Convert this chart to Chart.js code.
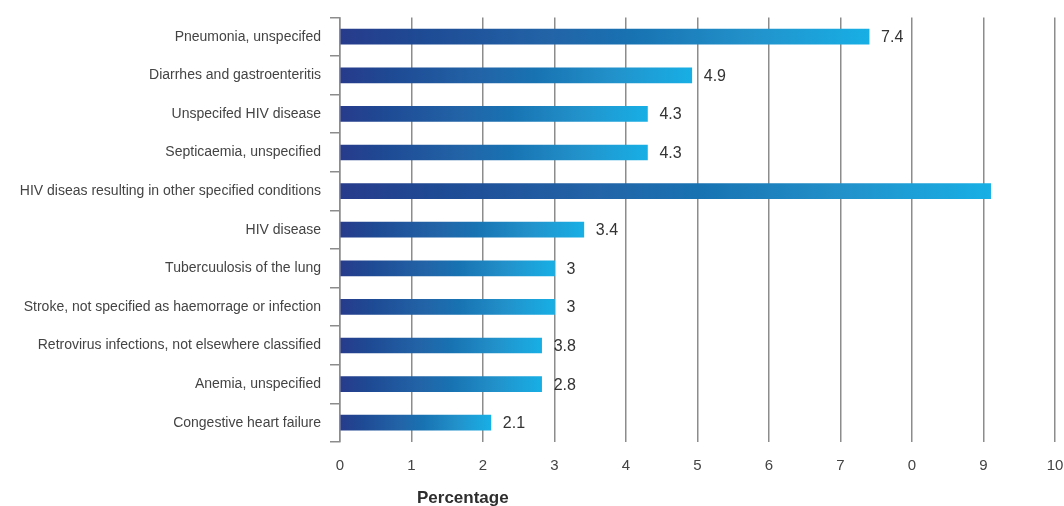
<!DOCTYPE html>
<html>
<head>
<meta charset="utf-8">
<script src="https://cdn.jsdelivr.net/npm/chart.js@4.4.1/dist/chart.umd.min.js"></script>
<style>
  html, body { margin: 0; padding: 0; background: #fff; overflow: hidden; }
  #wrap { width: 1064px; height: 506px; }
</style>
</head>
<body>
<div id="wrap"><canvas id="chart"></canvas></div>
<script>
// 分类与数值
const categories = [
  'Pneumonia, unspecifed',
  'Diarrhes and gastroenteritis',
  'Unspecifed HIV disease',
  'Septicaemia, unspecified',
  'HIV diseas resulting in other specified conditions',
  'HIV disease',
  'Tubercuulosis of the lung',
  'Stroke, not specified as haemorrage or infection',
  'Retrovirus infections, not elsewhere classified',
  'Anemia, unspecified',
  'Congestive heart failure'
];
const barValues = [7.4, 4.92, 4.3, 4.3, 9.1, 3.41, 3.0, 3.0, 2.82, 2.82, 2.11];
const valueLabels = ['7.4', '4.9', '4.3', '4.3', '', '3.4', '3', '3', '3.8', '2.8', '2.1'];
const tickLabels = ['0', '1', '2', '3', '4', '5', '6', '7', '0', '9', '10'];

const FONT = '"Liberation Sans", Arial, Helvetica, sans-serif';

// 每根柱子自己的渐变
function barGradient(context) {
  const chart = context.chart;
  const xScale = chart.scales.x;
  if (!xScale || !chart.chartArea) return '#1e5ea4';
  const v = context.raw || 0;
  const x0 = xScale.getPixelForValue(0);
  const x1 = xScale.getPixelForValue(v);
  if (!isFinite(x0) || !isFinite(x1) || x1 <= x0) return '#1e5ea4';
  const g = chart.ctx.createLinearGradient(x0, 0, x1, 0);
  g.addColorStop(0, '#273b8b');
  g.addColorStop(0.15, '#1e4a94');
  g.addColorStop(0.4, '#2264a7');
  g.addColorStop(0.55, '#1872b2');
  g.addColorStop(0.78, '#2292cb');
  g.addColorStop(1, '#17afe5');
  return g;
}

// 柱子右侧数值
const valueLabelPlugin = {
  id: 'valueLabels',
  afterDatasetsDraw(chart) {
    const ctx = chart.ctx;
    const meta = chart.getDatasetMeta(0);
    ctx.save();
    ctx.font = '16px ' + FONT;
    ctx.fillStyle = '#333';
    ctx.textAlign = 'left';
    ctx.textBaseline = 'middle';
    meta.data.forEach((bar, i) => {
      const txt = valueLabels[i];
      if (txt) ctx.fillText(txt, bar.x + 12, bar.y + 1);
    });
    ctx.restore();
  }
};

// x 轴标题
const axisTitlePlugin = {
  id: 'axisTitle',
  afterDraw(chart) {
    const ctx = chart.ctx;
    ctx.save();
    ctx.font = 'bold 17px ' + FONT;
    ctx.fillStyle = '#2e2e2e';
    ctx.textAlign = 'left';
    ctx.textBaseline = 'middle';
    ctx.fillText('Percentage', chart.chartArea.left + 77, chart.height - 8);
    ctx.restore();
  }
};

new Chart(document.getElementById('chart'), {
  type: 'bar',
  data: {
    labels: categories,
    datasets: [{
      data: barValues,
      backgroundColor: barGradient,
      barThickness: 15,
      borderWidth: 0
    }]
  },
  options: {
    indexAxis: 'y',
    responsive: true,
    maintainAspectRatio: false,
    animation: false,
    layout: { padding: { top: 12, right: 9, bottom: 17, left: 0 } },
    plugins: {
      legend: { display: false },
      tooltip: { enabled: false }
    },
    scales: {
      x: {
        min: 0,
        max: 10,
        z: 1,
        afterFit(scale) {
          scale.paddingLeft = 0;
          scale.paddingRight = 0;
        },
        ticks: {
          stepSize: 1,
          padding: 14.5,
          color: '#444',
          font: { family: FONT, size: 15 },
          callback: (v, i) => tickLabels[i]
        },
        grid: {
          color: '#8c8c8c',
          lineWidth: 1.5,
          drawTicks: false
        },
        border: { display: false }
      },
      y: {
        afterFit(scale) { scale.width = 340; },
        ticks: {
          padding: 9,
          color: '#444',
          font: { family: FONT, size: 14 }
        },
        grid: {
          offset: true,
          drawOnChartArea: false,
          drawTicks: true,
          tickLength: 10,
          color: '#8c8c8c',
          lineWidth: 1.5
        },
        border: { display: true, color: '#8c8c8c', width: 1.5 }
      }
    }
  },
  plugins: [valueLabelPlugin, axisTitlePlugin]
});
</script>
</body>
</html>
